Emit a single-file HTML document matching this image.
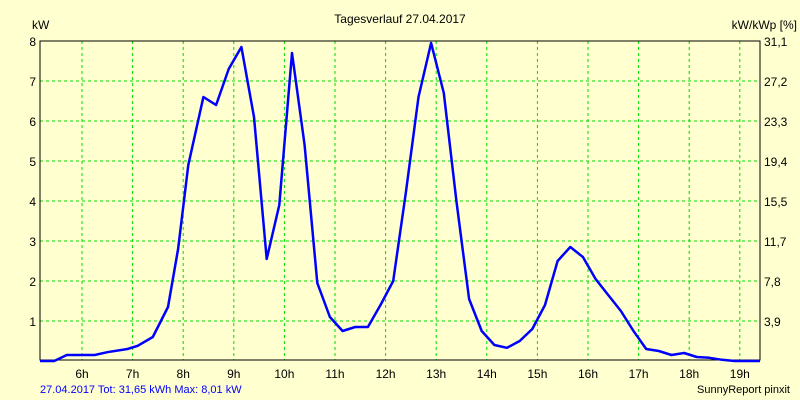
<!DOCTYPE html>
<html><head><meta charset="utf-8"><style>
body{margin:0;background:#ffffd0;}
svg{display:block;font-family:"Liberation Sans",Arial,sans-serif;font-size:12px;}
</style></head><body>
<svg id="chart" width="800" height="400">
<rect x="0" y="0" width="800" height="400" fill="#ffffd0"/>
<text x="400" y="23" text-anchor="middle">Tagesverlauf 27.04.2017</text>
<text x="32" y="29">kW</text>
<text x="797" y="29" text-anchor="end">kW/kWp [%]</text>
<g id="grid"></g>
<g id="axes"></g>
<g id="series"></g>
<text x="40" y="393" fill="#0000ff" font-size="11">27.04.2017 Tot: 31,65 kWh Max: 8,01 kW</text>
<text x="790" y="393" text-anchor="end" font-size="11">SunnyReport pinxit</text>
</svg>
<script>
const hourTicks=[6,7,8,9,10,11,12,13,14,15,16,17,18,19];
const kwTicks=[1,2,3,4,5,6,7,8];
const pctLabels=["3,9","7,8","11,7","15,5","19,4","23,3","27,2","31,1"];
const times=[5.17,5.45,5.7,6.25,6.5,6.9,7.1,7.4,7.7,7.9,8.1,8.4,8.65,8.9,9.15,9.4,9.65,9.9,10.15,10.4,10.65,10.9,11.15,11.4,11.65,11.9,12.15,12.4,12.65,12.9,13.15,13.4,13.65,13.9,14.15,14.4,14.65,14.9,15.15,15.4,15.65,15.9,16.15,16.4,16.65,16.9,17.15,17.4,17.65,17.9,18.15,18.4,18.65,18.9,19.4];
const power=[0,0,0.15,0.15,0.22,0.3,0.38,0.6,1.35,2.8,4.9,6.6,6.4,7.3,7.85,6.1,2.55,3.9,7.7,5.4,1.95,1.1,0.75,0.85,0.85,1.4,2.0,4.2,6.6,7.95,6.7,4.0,1.55,0.75,0.4,0.33,0.5,0.8,1.4,2.5,2.85,2.6,2.05,1.65,1.25,0.75,0.3,0.25,0.15,0.2,0.1,0.08,0.03,0,0];
const NS="http://www.w3.org/2000/svg";
const L=40,R=760,T=41,B=360;
function xs(t){return 82+(t-6)*50.6;}
function ys(v){return 361-v*40;}
function mk(tag,attrs,parent){const e=document.createElementNS(NS,tag);for(const k in attrs)e.setAttribute(k,attrs[k]);parent.appendChild(e);return e;}
const grid=document.getElementById('grid'),axes=document.getElementById('axes'),series=document.getElementById('series');
hourTicks.forEach(h=>{
 const l=mk('line',{x1:xs(h),x2:xs(h),y1:T,y2:B,stroke:'#00dd00','stroke-dasharray':'3,3'},grid);
 
 
 const t=mk('text',{x:xs(h),y:378,'text-anchor':'middle'},axes);t.textContent=h+'h';
 
 
});
kwTicks.forEach((k,i)=>{
 const l=mk('line',{x1:L,x2:R,y1:ys(k),y2:ys(k),stroke:'#00dd00','stroke-dasharray':'3,3'},grid);
 
 
 const t=mk('text',{x:36,y:ys(k)+5,'text-anchor':'end'},axes);t.textContent=k;
 
 
 const t2=mk('text',{x:764,y:ys(k)+5},axes);t2.textContent=pctLabels[i];
 
 
});
const ax=mk('path',{d:`M${L},${T}H${R}V${B}H${L}Z`,fill:'none',stroke:'#000','stroke-width':1},axes);


const pts=times.map((t,i)=>xs(t).toFixed(1)+','+ys(power[i]).toFixed(1)).join(' ');
const pl=mk('polyline',{points:pts,fill:'none',stroke:'#0000ff','stroke-width':2.5,'stroke-linejoin':'round'},series);


</script>
</body></html>
